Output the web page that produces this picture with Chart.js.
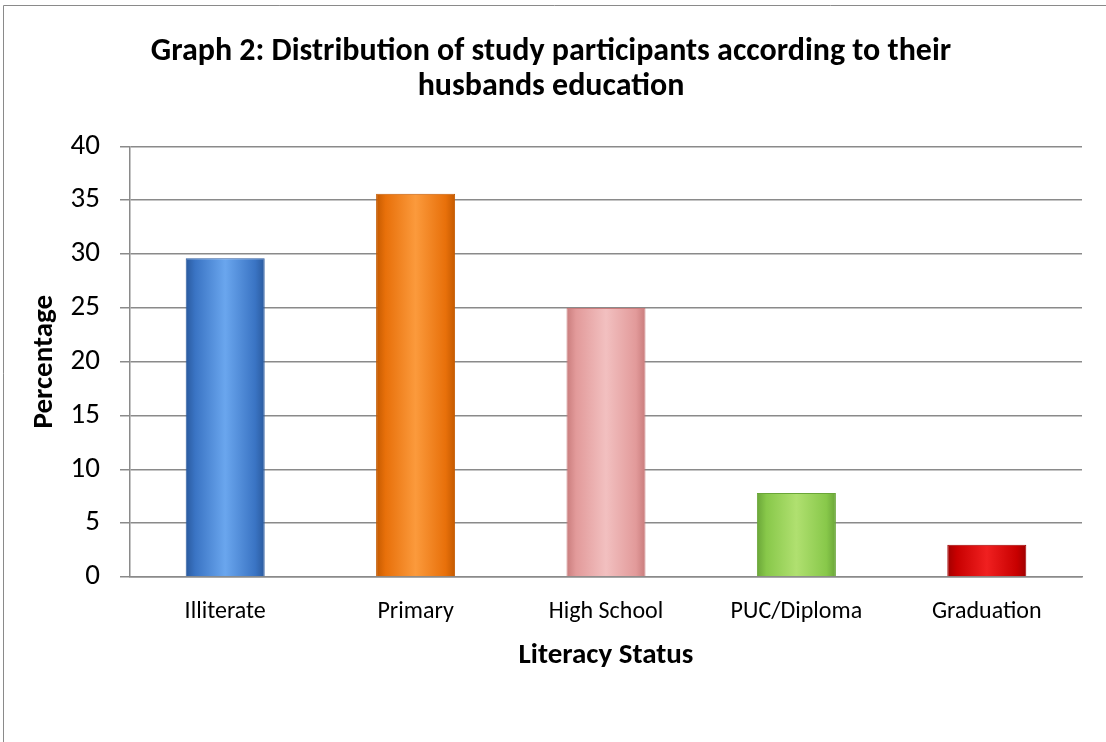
<!DOCTYPE html>
<html>
<head>
<meta charset="utf-8">
<script src="https://cdn.jsdelivr.net/npm/chart.js@4/dist/chart.umd.min.js"></script>
<style>
html,body{margin:0;padding:0;background:#fff;}
#wrap{position:relative;width:1106px;height:742px;}
canvas{display:block;}
</style>
</head>
<body>
<div id="wrap"><canvas id="c" width="1106" height="742"></canvas></div>
<script>
const categories = ["Illiterate", "Primary", "High School", "PUC/Diploma", "Graduation"];
const percentages = [29.6, 35.6, 25.0, 7.8, 3.0];
const yTicks = [0, 5, 10, 15, 20, 25, 30, 35, 40];
const titleLines = ["Graph 2: Distribution of study participants according to their", "husbands education"];
const xTitle = "Literacy Status";
const yTitle = "Percentage";
const barBase = ["#3a74c4", "#e8700a", "#e29a9a", "#88c84a", "#c80000"];
const barLight = ["#6aa6ee", "#fb9a3c", "#f2c0c0", "#b0e070", "#f02020"];
const barDark = ["#2a5a9e", "#c45a00", "#c97c7c", "#6aa638", "#a00000"];

const FONT = "Carlito, Lato, 'Liberation Sans', sans-serif";

const frame = {
  id: 'frame',
  beforeDraw(chart) {
    const ctx = chart.ctx;
    ctx.save();
    ctx.fillStyle = '#fff';
    ctx.fillRect(0, 0, chart.width, chart.height);
    ctx.strokeStyle = '#8a8a8a';
    ctx.lineWidth = 1;
    ctx.beginPath();
    ctx.moveTo(3.5, chart.height);
    ctx.lineTo(3.5, 5.5);
    ctx.lineTo(chart.width, 5.5);
    ctx.stroke();
    ctx.restore();
  }
};

const shade = {
  id: 'shade',
  beforeDatasetsDraw(chart) {
    const ctx = chart.ctx;
    chart.getDatasetMeta(0).data.forEach((bar, i) => {
      const l = bar.x - bar.width / 2, r = bar.x + bar.width / 2;
      const g = ctx.createLinearGradient(l, 0, r, 0);
      g.addColorStop(0, barDark[i]);
      g.addColorStop(0.12, barBase[i]);
      g.addColorStop(0.5, barLight[i]);
      g.addColorStop(0.88, barBase[i]);
      g.addColorStop(1, barDark[i]);
      bar.options.backgroundColor = g;
      bar.options.borderColor = barDark[i];
    });
  }
};

new Chart(document.getElementById('c'), {
  type: 'bar',
  data: {
    labels: categories,
    datasets: [{
      data: percentages,
      backgroundColor: barBase,
      borderColor: barDark,
      borderWidth: 1,
      categoryPercentage: 1,
      barPercentage: 0.415
    }]
  },
  options: {
    responsive: false,
    animation: false,
    devicePixelRatio: 1,
    layout: { padding: { left: 20, right: 24, top: 0, bottom: 69 } },
    plugins: {
      legend: { display: false },
      tooltip: { enabled: false },
      title: {
        display: true,
        text: titleLines,
        color: '#000',
        font: { family: FONT, size: 32, weight: 'bold', lineHeight: 1.1 },
        padding: { top: 34, bottom: 42 }
      }
    },
    scales: {
      x: {
        grid: { display: false, drawTicks: false },
        border: { display: true, color: '#8a8a8a', width: 1.5 },
        ticks: { color: '#000', font: { family: FONT, size: 24 }, padding: 21 },
        title: { display: true, text: xTitle, color: '#000', font: { family: FONT, size: 29, weight: 'bold', lineHeight: 1.2 }, padding: { top: 0, bottom: 0 } },
        afterFit(s) { s.height = 96; }
      },
      y: {
        min: 0, max: 40,
        afterBuildTicks(s) { s.ticks = yTicks.map(v => ({ value: v })); },
        grid: { color: '#8a8a8a', lineWidth: 1.5, tickLength: 10, drawTicks: true },
        border: { display: true, color: '#8a8a8a', width: 1.5 },
        ticks: { color: '#000', font: { family: FONT, size: 29 }, padding: 20 },
        title: { display: true, text: yTitle, color: '#000', font: { family: FONT, size: 29, weight: 'bold', lineHeight: 1.2 }, padding: { top: 7, bottom: 0 } },
        afterFit(s) { s.width = 110; }
      }
    }
  },
  plugins: [frame, shade]
});
</script>
</body>
</html>
